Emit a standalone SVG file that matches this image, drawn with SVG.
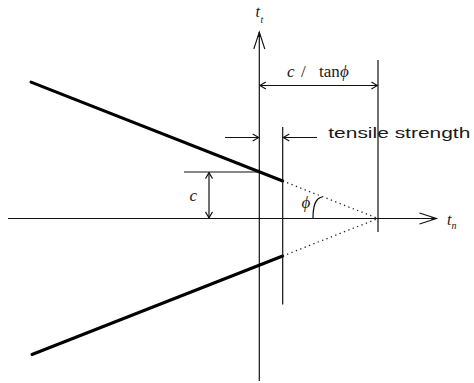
<svg xmlns="http://www.w3.org/2000/svg" width="474" height="383" viewBox="0 0 474 383">
<style>
.thin{stroke:#111;stroke-width:1.2;fill:none}
.thick{stroke:#000;stroke-width:3;fill:none;stroke-linecap:round}
.dot{stroke:#222;stroke-width:1.3;fill:none;stroke-dasharray:1.3 3.4}
.it{font-family:"Liberation Serif","Times New Roman",serif;font-style:italic;fill:#1a1a1a}
.rm{font-family:"Liberation Serif","Times New Roman",serif;fill:#1a1a1a}
.sans{font-family:"Liberation Sans",Arial,sans-serif;fill:#1a1a1a}
</style>
<defs>
<marker id="dim" markerUnits="userSpaceOnUse" markerWidth="12" markerHeight="12" viewBox="-8 -6 10 12" refX="0" refY="0" orient="auto-start-reverse">
<path d="M-6,-3.5 L0,0 L-6,3.5" fill="none" stroke="#111" stroke-width="1.1"/>
</marker>
<marker id="axis" markerUnits="userSpaceOnUse" markerWidth="22" markerHeight="16" viewBox="-19 -8 21 16" refX="0" refY="0" orient="auto">
<path d="M-17,-5.5 L0,0 L-17,5.5" fill="none" stroke="#111" stroke-width="1.1"/>
<path d="M-5,-1.8 L0,0 L-5,1.8 Z" fill="#111"/>
</marker>
</defs>

<g id="connectors">
  <g id="axes">
    <line id="axis-tn" class="thin" x1="8" y1="218.5" x2="436.5" y2="218.5" marker-end="url(#axis)"/>
    <line id="axis-tt" class="thin" x1="259.3" y1="381" x2="259.3" y2="32" marker-end="url(#axis)"/>
  </g>
  <g id="envelope">
    <line class="thick" x1="31" y1="82.1" x2="282.7" y2="181"/>
    <line class="thick" x1="32" y1="354.5" x2="282.7" y2="256"/>
    <line class="dot" x1="282.7" y1="181" x2="378" y2="218.5"/>
    <line class="dot" x1="282.7" y1="256" x2="378" y2="218.5"/>
  </g>
  <g id="reference-lines">
    <line id="tensile-line" class="thin" x1="282.7" y1="127" x2="282.7" y2="304.5"/>
    <line id="apex-line" class="thin" x1="378" y1="60" x2="378" y2="232"/>
    <line id="c-line" class="thin" x1="184" y1="172" x2="259.3" y2="172"/>
  </g>
  <g id="dimensions">
    <line id="dim-c" class="thin" x1="209" y1="172.6" x2="209" y2="217.9" marker-start="url(#dim)" marker-end="url(#dim)"/>
    <line id="dim-ctan" class="thin" x1="259.9" y1="85.5" x2="377.4" y2="85.5" marker-start="url(#dim)" marker-end="url(#dim)"/>
    <line id="dim-ts-left" class="thin" x1="225" y1="137.5" x2="258.7" y2="137.5" marker-end="url(#dim)"/>
    <line id="dim-ts-right" class="thin" x1="317" y1="137.5" x2="283.3" y2="137.5" marker-end="url(#dim)"/>
    <path id="phi-arc" class="thin" d="M313,218.5 C313,206 315,198.5 322,197"/>
  </g>
</g>

<g id="label-tt">
  <text class="it" x="255.5" y="17" font-size="16">t</text>
  <text class="it" x="260.5" y="23" font-size="10">t</text>
</g>
<g id="label-tn">
  <text class="it" x="447" y="225" font-size="16">t</text>
  <text class="it" x="451.5" y="229" font-size="10">n</text>
</g>
<g id="label-c">
  <text class="it" x="189.5" y="201" font-size="17">c</text>
</g>
<g id="label-phi">
  <text class="it" x="301.5" y="208" font-size="17">ϕ</text>
</g>
<g id="label-ctan">
  <text font-size="17"><tspan class="it" x="287" y="76.7">c</tspan><tspan class="rm" x="301" y="76.7">/</tspan><tspan class="rm" x="319" y="76.7">tan</tspan><tspan class="it" x="340" y="76.7">ϕ</tspan></text>
</g>
<g id="label-tensile">
  <text class="sans" x="328.3" y="138.3" font-size="15.5" textLength="142" lengthAdjust="spacingAndGlyphs">tensile strength</text>
</g>
</svg>
